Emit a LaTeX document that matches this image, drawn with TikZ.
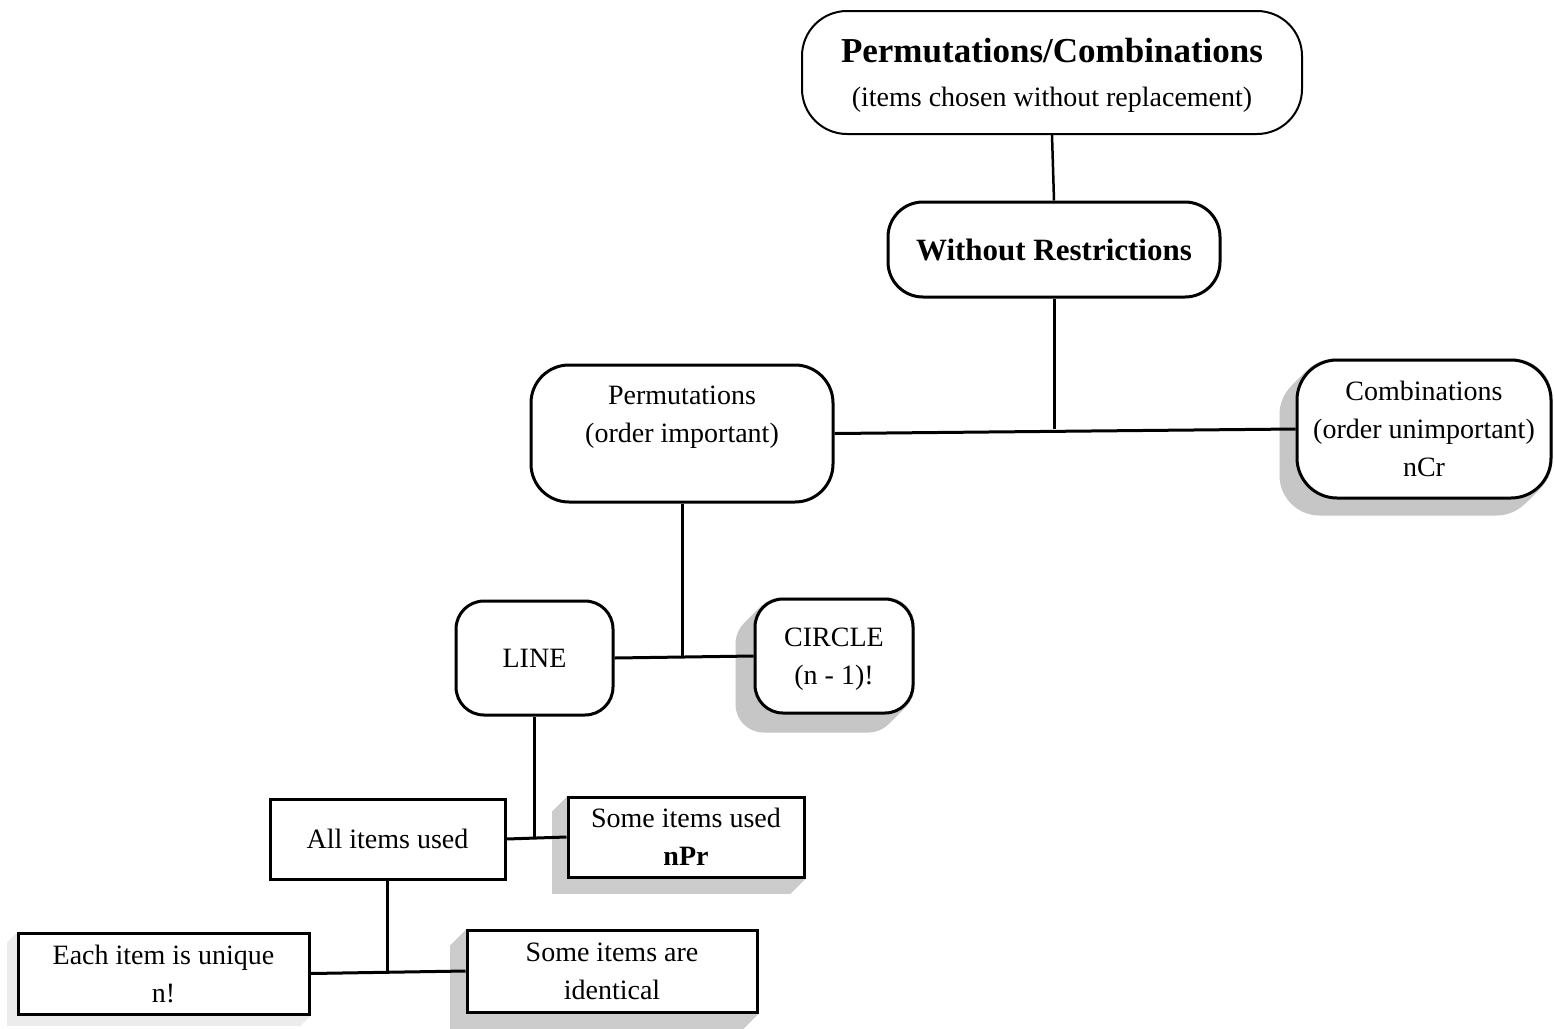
\documentclass[tikz,border=0pt]{standalone}
\usepackage{fontspec}
\setmainfont{Liberation Serif}
\usetikzlibrary{backgrounds}
\newcommand\myshadow[4]{% node, offset, radius, colour
  \foreach \s in {0,1,...,#2}
    \fill[#4, rounded corners=#3] ([shift={(-\s,\s)}]#1.south west) rectangle ([shift={(-\s,\s)}]#1.north east);}
\begin{document}
\begin{tikzpicture}[x=1pt,y=-1pt,
  box/.style={draw, line width=3pt, fill=white, inner sep=0pt, align=center, text depth=0pt,
    font=\fontsize{28}{38}\selectfont},
  conn/.style={line width=3pt},
]
\useasboundingbox (0,0) rectangle (1554,1028);

\node[box, line width=2pt, rounded corners=45pt, minimum width=500pt, minimum height=123pt,
  font=\fontsize{28}{44}\selectfont] (top) at (1052,72.5)
  {{\fontsize{35}{44}\selectfont\bfseries Permutations/Combinations}\\(items chosen without replacement)};
\node[box, rounded corners=35pt, minimum width=332pt, minimum height=95pt,
  font=\fontsize{31}{38}\selectfont\bfseries] (without) at (1054,249.5) {Without Restrictions};
\node[box, rounded corners=38pt, minimum width=302pt, minimum height=137pt] (perm) at (682,433.5)
  {Permutations\\(order important)\\\strut};
\node[box, rounded corners=40pt, minimum width=254pt, minimum height=138pt] (comb) at (1424,429)
  {Combinations\\(order unimportant)\\nCr};
\node[box, rounded corners=28pt, minimum width=157pt, minimum height=114pt] (line) at (534.5,658) {LINE};
\node[box, rounded corners=28pt, minimum width=158pt, minimum height=114pt] (circle) at (834,656)
  {CIRCLE\\(n - 1)!};
\node[box, minimum width=235pt, minimum height=80pt] (all) at (387.5,839) {All items used};
\node[box, minimum width=236pt, minimum height=80pt] (someused) at (686,837)
  {Some items used\\\textbf{nPr}};
\node[box, minimum width=291pt, minimum height=81pt] (each) at (163.5,973.5)
  {Each item is unique\\n!};
\node[box, minimum width=290pt, minimum height=82pt] (ident) at (612,971)
  {Some items are\\identical};

\begin{scope}[on background layer]
  \fill[white] (0,0) rectangle (1554,1028);
  \myshadow{comb}{16}{40pt}{gray!45}
  \myshadow{circle}{18}{28pt}{gray!45}
  \myshadow{someused}{15}{0pt}{gray!40}
  \myshadow{each}{10}{0pt}{gray!15}
  \myshadow{ident}{16}{0pt}{gray!40}
\end{scope}

\draw[conn, line width=2.5pt] (top.south) -- (without.north);
\draw[conn] (without.south) -- (without.south |- comb.west);
\draw[conn] (perm.east) -- (comb.west);
\draw[conn] (perm.south) -- (perm.south |- line.east);
\draw[conn] (line.east) -- (circle.west);
\draw[conn] (line.south) -- (line.south |- all.east);
\draw[conn] (all.east) -- (someused.west);
\draw[conn] (all.south) -- (all.south |- each.east);
\draw[conn] (each.east) -- (ident.west);
\end{tikzpicture}
\end{document}
